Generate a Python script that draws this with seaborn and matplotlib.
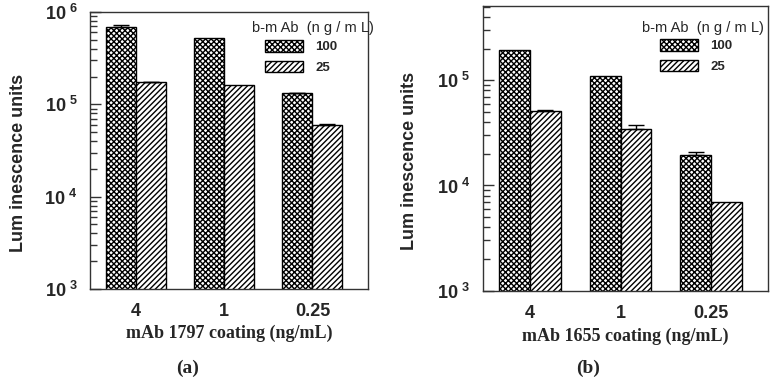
import numpy as np
import pandas as pd
import matplotlib
matplotlib.use("Agg")
import matplotlib.pyplot as plt
import seaborn as sns
from matplotlib.ticker import LogLocator, FixedLocator, FixedFormatter, NullFormatter

sns.set_theme(style="white")
plt.rcParams['font.family'] = ['Liberation Sans', 'DejaVu Sans']
plt.rcParams['mathtext.fontset'] = 'custom'
plt.rcParams['mathtext.rm'] = 'Liberation Sans:bold'
plt.rcParams['mathtext.bf'] = 'Liberation Sans:bold'
plt.rcParams['hatch.linewidth'] = 1.0
plt.rcParams['hatch.color'] = 'black'

# ---- data ----
coatings = ["4", "1", "0.25"]
bmab_levels = ["100", "25"]

a_100 = [6.9e5, 5.2e5, 1.32e5]
a_25 = [1.73e5, 1.61e5, 5.9e4]
a_100_err = [2.9e4, 0.0, 1.5e3]
a_25_err = [2.0e3, 0.0, 3.0e3]

b_100 = [1.94e5, 1.10e5, 1.95e4]
b_25 = [5.1e4, 3.43e4, 7.0e3]
b_100_err = [0.0, 0.0, 1.1e3]
b_25_err = [1.2e3, 3.1e3, 0.0]

panels = [
    dict(v100=a_100, v25=a_25, e100=a_100_err, e25=a_25_err,
         xlabel="mAb 1797 coating (ng/mL)", tag="(a)", ylim=(1e3, 1e6),
         rect=[90/775, 1-289/383, 278/775, 277/383]),
    dict(v100=b_100, v25=b_25, e100=b_100_err, e25=b_25_err,
         xlabel="mAb 1655 coating (ng/mL)", tag="(b)", ylim=(1e3, 5.07e5),
         rect=[482.7/775, 1-290.7/383, 285.6/775, 284.7/383]),
]

fig = plt.figure(figsize=(7.75, 3.83), dpi=100)
hatches = {"100": "xxxxxx", "25": "//////"}

for i, p in enumerate(panels):
    ax = fig.add_axes(p["rect"])
    ax.set_yscale("log")
    df = pd.DataFrame({
        "coating": coatings * 2,
        "bmab": ["100"] * 3 + ["25"] * 3,
        "value": list(p["v100"]) + list(p["v25"]),
        "err": list(p["e100"]) + list(p["e25"]),
    })
    sns.barplot(data=df, x="coating", y="value", hue="bmab", order=coatings,
                hue_order=bmab_levels, palette=["white", "white"], width=0.68,
                errorbar=None, edgecolor="black", linewidth=1.0, ax=ax,
                legend=False)
    bars = [pt for pt in ax.patches if pt.get_width() > 0]
    for k, b in enumerate(bars[:6]):
        lvl = bmab_levels[k // 3]
        b.set_hatch(hatches[lvl])
        b.set_facecolor("white")
        b.set_edgecolor("black")
    for k, b in enumerate(bars[:6]):
        e = df["err"].iloc[k]
        if e > 0:
            xc = b.get_x() + b.get_width() / 2
            ax.errorbar(xc, df["value"].iloc[k], yerr=[[0], [e]], color="black",
                        capsize=5.5, elinewidth=1.0, capthick=1.0, fmt="none")
    ax.set_ylim(*p["ylim"])
    ax.set_xlim(-0.52, 2.63)
    for s in ax.spines.values():
        s.set_visible(True)
        s.set_color("#333333")
        s.set_linewidth(1.0)
    ax.yaxis.set_minor_locator(LogLocator(base=10, subs=np.arange(2, 10), numticks=20))
    ax.yaxis.set_minor_formatter(NullFormatter())
    majors = [t for t in [1e3, 1e4, 1e5, 1e6] if t <= p["ylim"][1] * 1.001]
    ax.yaxis.set_major_locator(FixedLocator(majors))
    ax.yaxis.set_major_formatter(FixedFormatter(
        [r"$\mathbf{10^{\ %d}}$" % int(round(np.log10(t))) for t in majors]))
    ax.tick_params(axis="y", which="major", direction="in", length=8, width=1,
                   color="#333333", left=True, right=False, labelsize=13, pad=9)
    ax.tick_params(axis="y", which="minor", direction="in", length=5, width=1,
                   color="#333333", left=True, right=False)
    ax.tick_params(axis="x", which="both", bottom=False, top=False, labelsize=13, pad=4)
    for lab in ax.get_xticklabels():
        lab.set_fontweight("bold")
    ax.set_ylabel("Lum inescence units", fontsize=13, fontweight="bold")
    ax.yaxis.set_label_coords(-0.225, 0.455)
    ax.set_xlabel(p["xlabel"], fontsize=13, fontweight="bold",
                  family=["Liberation Serif", "DejaVu Serif"])
    ax.xaxis.set_label_coords(0.5, -0.13)

    handles = [matplotlib.patches.Patch(facecolor="white", edgecolor="black",
                                        hatch=hatches[l], linewidth=1.0)
               for l in bmab_levels]
    if i == 0:
        tx, hx, hy = 252, 265, 40
    else:
        tx, hx, hy = 642, 660, 39
    fig.text(tx / 775, 1 - 28 / 383, "b-m Ab  (n g / m L)", fontsize=10.5,
             ha="left", va="center")
    leg = ax.legend(handles, bmab_levels, loc="upper left",
                    bbox_to_anchor=(hx / 775, 1 - hy / 383),
                    bbox_transform=fig.transFigure, frameon=False,
                    fontsize=9.5, handlelength=2.9, handleheight=1.0,
                    handletextpad=0.9, labelspacing=0.55, borderpad=0,
                    borderaxespad=0)
    for t in leg.get_texts():
        t.set_fontweight("bold")

    fig.text((p["rect"][0] + p["rect"][2] / 2) - 0.053 + (0.005 if i else 0),
             1 - 368 / 383, p["tag"], fontsize=14, fontweight="bold",
             family=["Liberation Serif", "DejaVu Serif"], ha="center", va="center")

fig.savefig("out.png", dpi=100, facecolor="white")
